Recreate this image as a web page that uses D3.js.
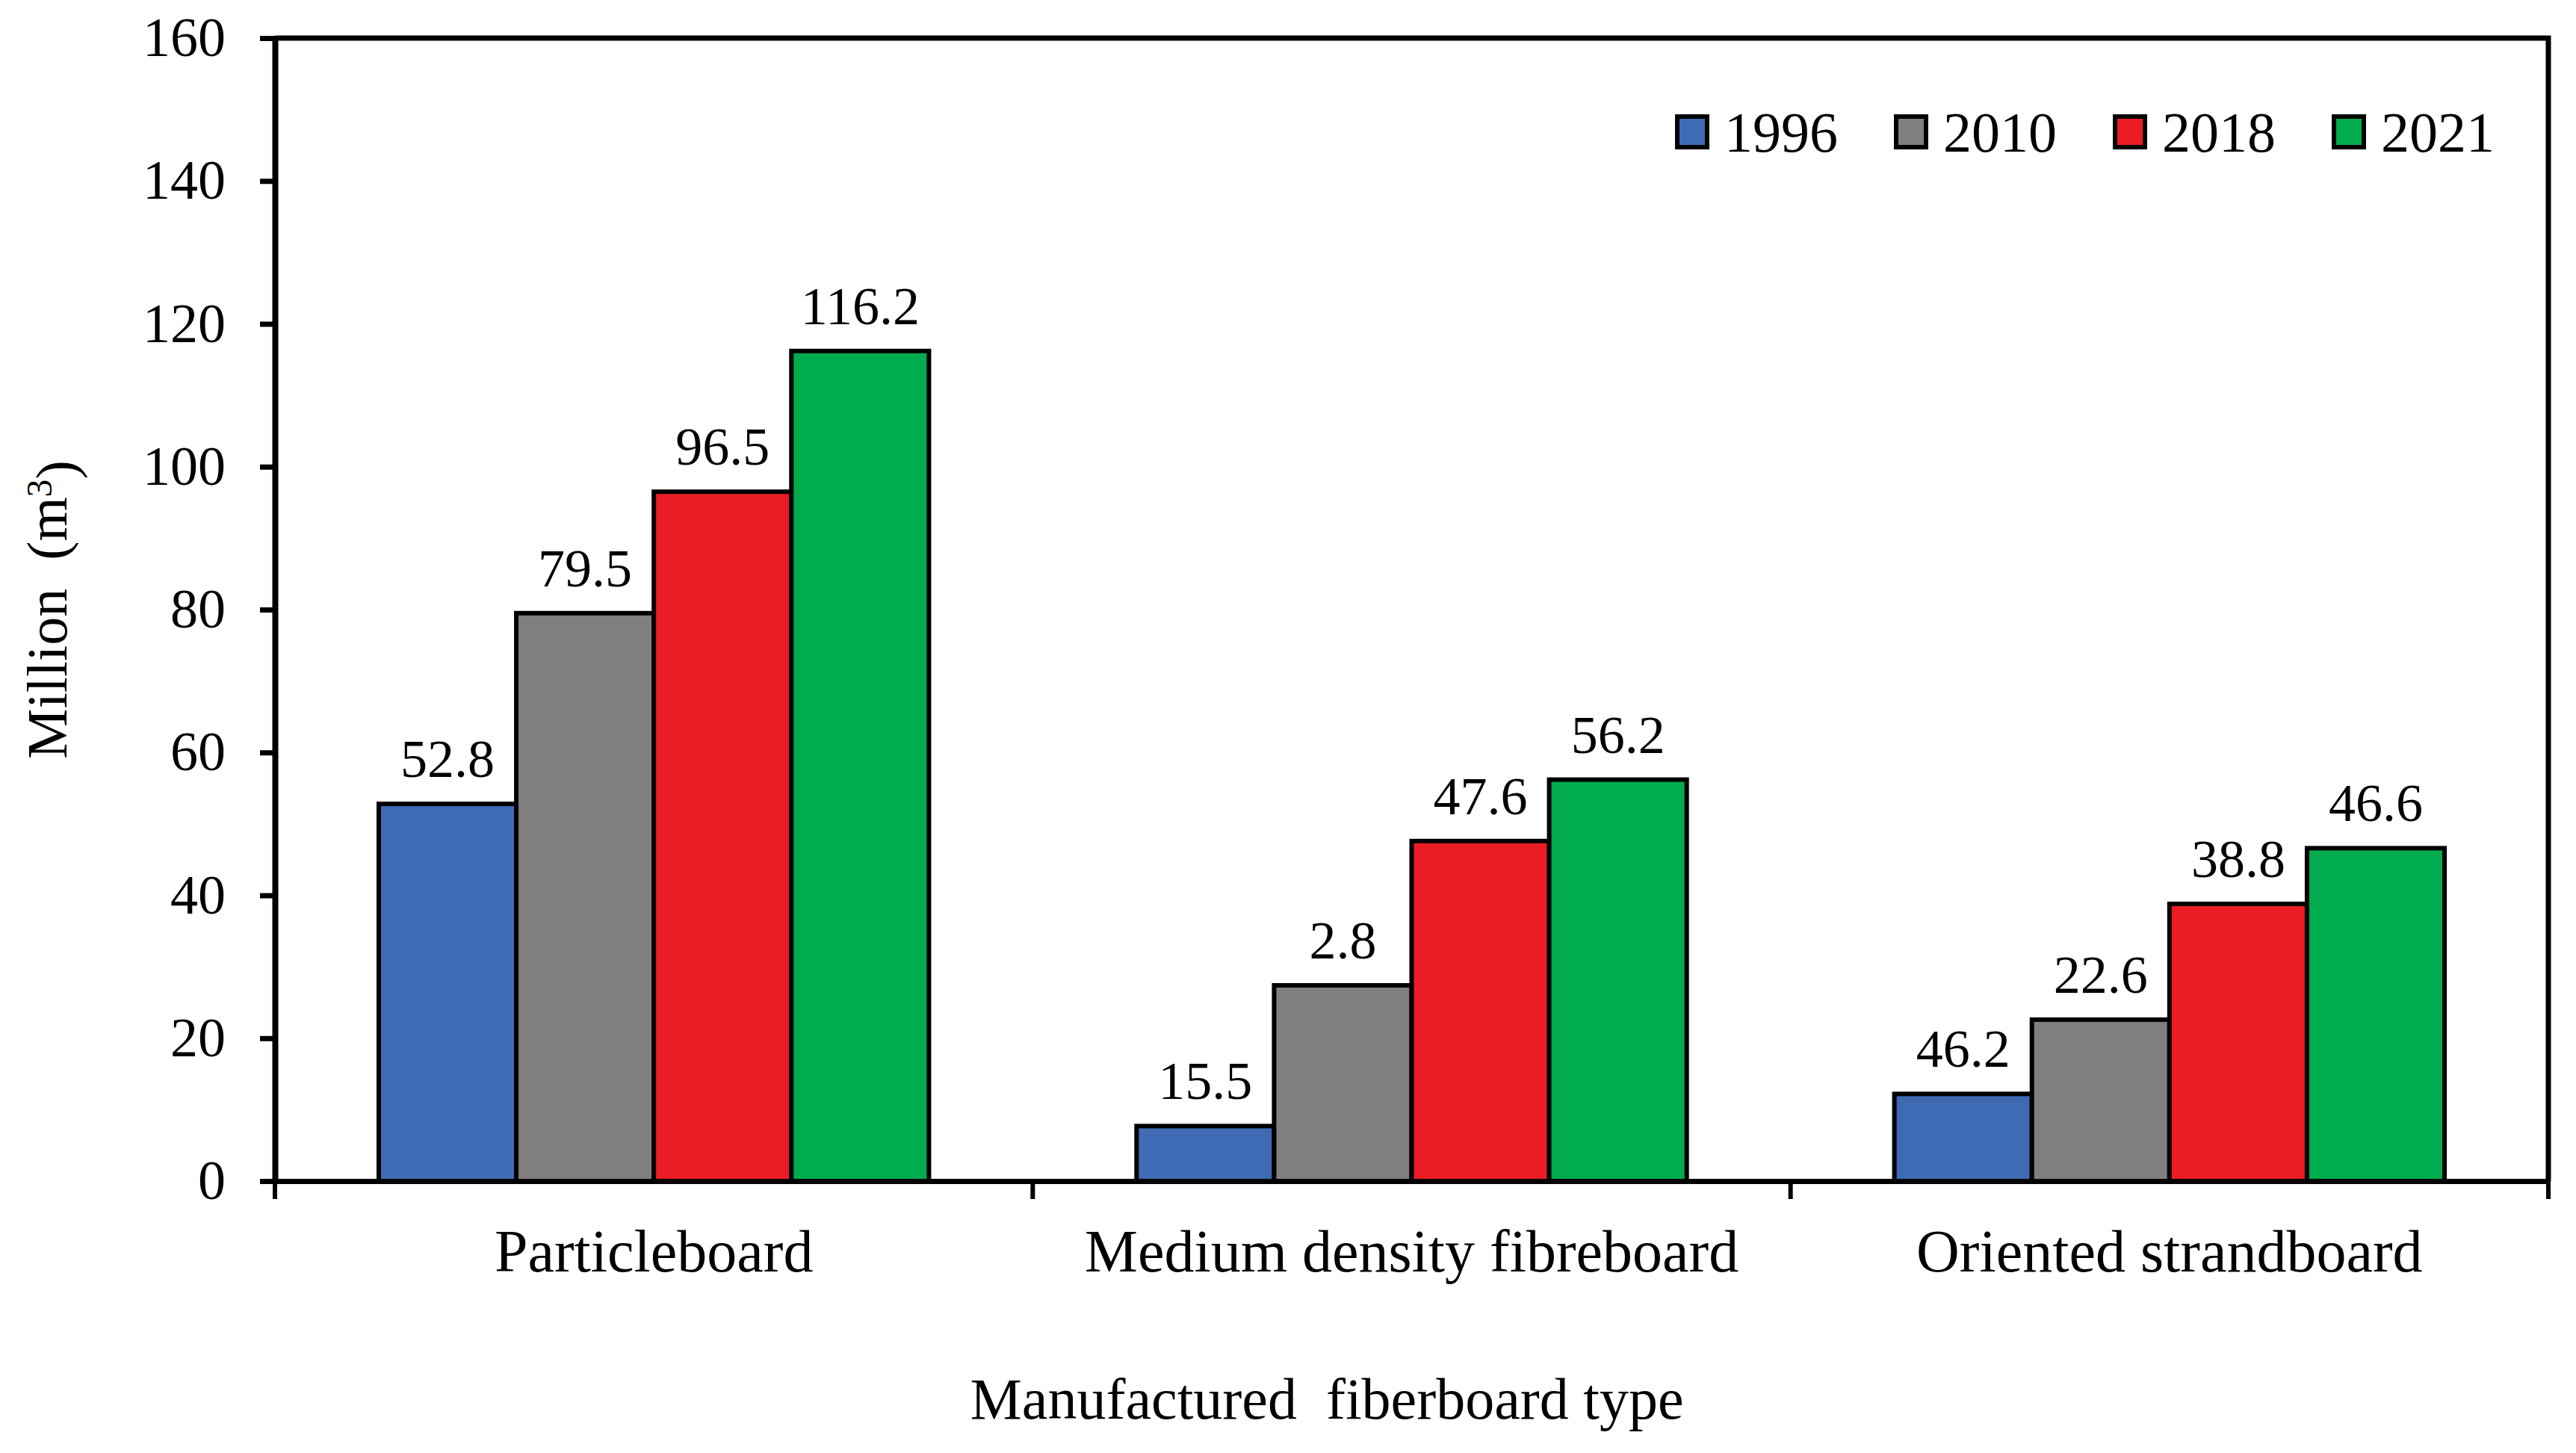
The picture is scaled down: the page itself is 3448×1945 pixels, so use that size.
<!DOCTYPE html>
<html lang="en">
  <head>
    <title>Manufactured fiberboard</title>
    <meta charset="utf-8">
    <script src="https://d3js.org/d3.v7.min.js"></script>
    <style>
      body { margin: 0; background: #fff; }
      text { font-family: "Liberation Serif", "Times New Roman", serif; fill: #000; }
    </style>
  </head>
  <body>
    <div id="chart"></div>
    <script>

    // data
    const categories = ["Particleboard", "Medium density fibreboard", "Oriented strandboard"];
    const years = ["1996", "2010", "2018", "2021"];
    const colors = ["#3f6bb5", "#7f7f7f", "#ec1c24", "#00ac4e"];
    // bar heights as drawn, one array per year
    const v1996 = [52.8, 7.7, 12.2];
    const v2010 = [79.5, 27.4, 22.6];
    const v2018 = [96.5, 47.6, 38.8];
    const v2021 = [116.2, 56.2, 46.6];
    // the printed labels (some do not match the bars in the source figure)
    const l1996 = ["52.8", "15.5", "46.2"];
    const l2010 = ["79.5", "2.8", "22.6"];
    const l2018 = ["96.5", "47.6", "38.8"];
    const l2021 = ["116.2", "56.2", "46.6"];
    const yTicks = [0, 20, 40, 60, 80, 100, 120, 140, 160];

    const values = [v1996, v2010, v2018, v2021];
    const labels = [l1996, l2010, l2018, l2021];

    const W = 3448, H = 1945;
    const margin = {top: 51, right: 37, bottom: 364, left: 368};
    const width = W - margin.left - margin.right,
          height = H - margin.top - margin.bottom;

    const svg = d3.select("#chart")
      .append("svg")
        .attr("width", W)
        .attr("height", H)
      .append("g")
        .attr("transform", `translate(${margin.left}, ${margin.top})`);

    const x0 = d3.scaleBand().domain(categories).range([0, width]).padding(0);
    const bw = x0.bandwidth();
    const x1 = d3.scaleBand().domain(years).range([bw * 0.137, bw * 0.863]).padding(0);
    const y = d3.scaleLinear().domain([0, 160]).range([height, 0]);

    // frame top + right
    svg.append("path")
      .attr("d", `M0,0H${width}V${height}`)
      .attr("fill", "none")
      .attr("stroke", "#000")
      .attr("stroke-width", 7);

    // bars
    const rows = [];
    categories.forEach((c, i) => {
      years.forEach((yr, j) => {
        rows.push({cat: c, year: yr, value: values[j][i], label: labels[j][i], color: colors[j]});
      });
    });

    svg.append("g").selectAll("rect")
      .data(rows)
      .join("rect")
        .attr("x", d => x0(d.cat) + x1(d.year))
        .attr("y", d => y(d.value))
        .attr("width", x1.bandwidth())
        .attr("height", d => y(0) - y(d.value))
        .attr("fill", d => d.color)
        .attr("stroke", "#000")
        .attr("stroke-width", 6);

    svg.append("g").selectAll("text")
      .data(rows)
      .join("text")
        .attr("x", d => x0(d.cat) + x1(d.year) + x1.bandwidth() / 2)
        .attr("y", d => y(d.value) - 36)
        .attr("text-anchor", "middle")
        .style("font-size", "72px")
        .text(d => d.label);

    // y axis
    const yAxis = svg.append("g")
      .call(d3.axisLeft(y).tickValues(yTicks).tickSize(20).tickSizeOuter(0).tickPadding(46));
    yAxis.select(".domain").attr("stroke-width", 8);
    yAxis.selectAll(".tick line").attr("stroke-width", 7);
    yAxis.selectAll("text").style("font-size", "74px").attr("font-family", null);

    // x axis: line, boundary ticks, category labels
    const xAxis = svg.append("g")
      .attr("transform", `translate(0, ${height})`)
      .call(d3.axisBottom(x0).tickSize(0).tickPadding(64));
    xAxis.select(".domain").attr("stroke-width", 7);
    xAxis.selectAll("text").style("font-size", "80px").attr("font-family", null);

    const bounds = categories.map(c => x0(c)).concat([x0(categories[categories.length - 1]) + bw]);
    svg.append("g").selectAll("line")
      .data(bounds)
      .join("line")
        .attr("x1", d => d).attr("x2", d => d)
        .attr("y1", height).attr("y2", height + 24)
        .attr("stroke", "#000")
        .attr("stroke-width", 6);

    // axis titles
    svg.append("text")
      .attr("x", 1776 - margin.left)
      .attr("y", 1899 - margin.top)
      .attr("text-anchor", "middle")
      .style("font-size", "78px")
      .style("white-space", "pre")
      .text("Manufactured  fiberboard type");

    const yt = svg.append("text")
      .attr("transform", `translate(${89 - margin.left}, ${816 - margin.top}) rotate(-90)`)
      .attr("text-anchor", "middle")
      .style("font-size", "76px")
      .style("white-space", "pre");
    yt.append("tspan").text("Million  (m");
    yt.append("tspan").attr("dy", "-0.42em").style("font-size", "48px").text("3");
    yt.append("tspan").attr("dy", "0.42em").text(")");

    // legend
    const legend = svg.append("g")
      .attr("transform", `translate(${2242 - margin.left}, ${153 - margin.top})`);
    const item = legend.selectAll("g")
      .data(years)
      .join("g")
        .attr("transform", (d, i) => `translate(${i * 293}, 0)`);
    item.append("rect")
      .attr("x", 3).attr("y", 3)
      .attr("width", 40).attr("height", 41)
      .attr("fill", (d, i) => colors[i])
      .attr("stroke", "#000")
      .attr("stroke-width", 6);
    item.append("text")
      .attr("x", 66)
      .attr("y", 50)
      .style("font-size", "76px")
      .text(d => d);

    </script>
  </body>
</html>
